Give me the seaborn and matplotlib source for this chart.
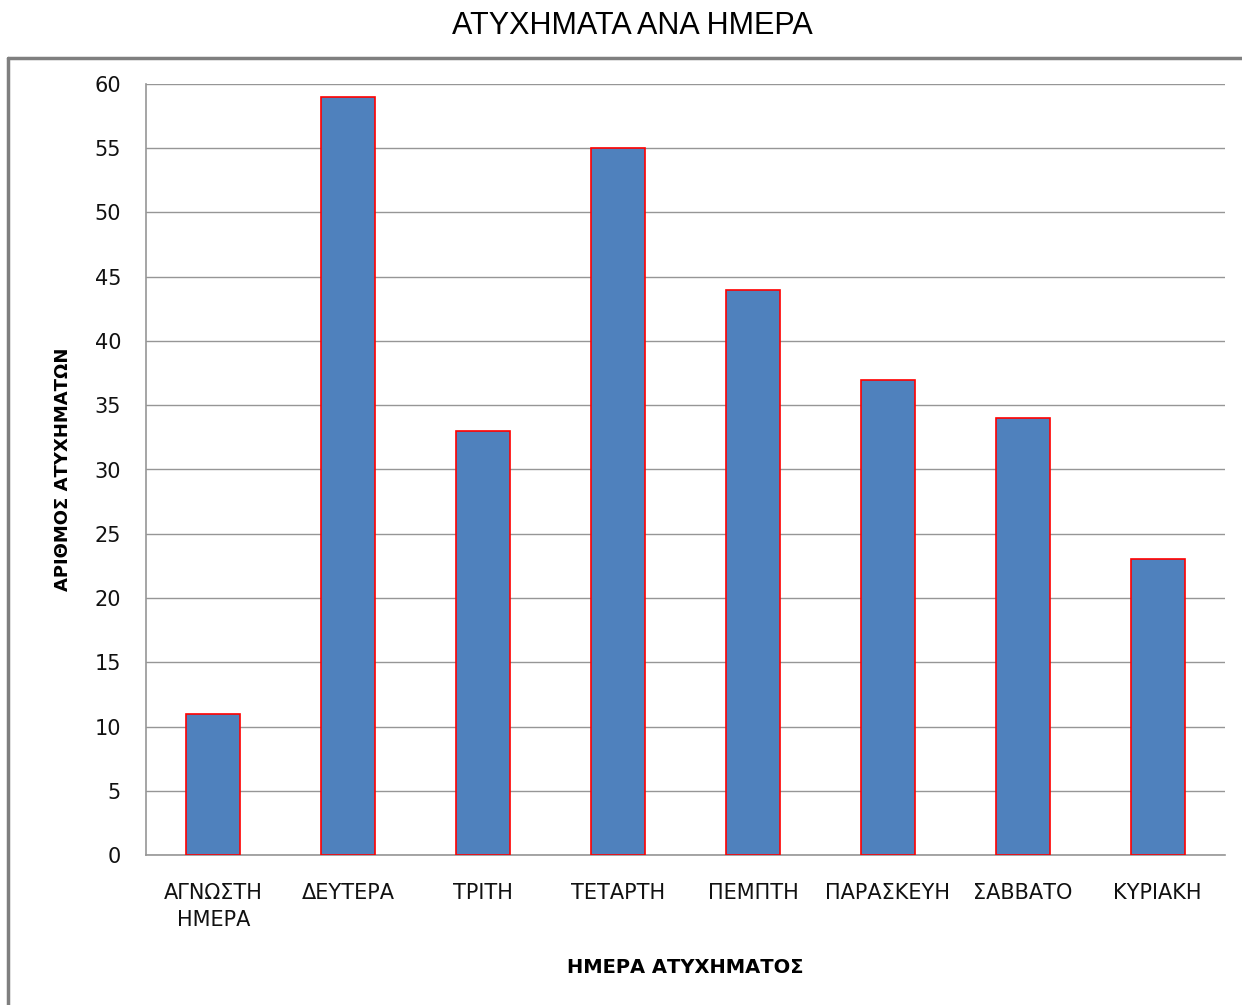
import matplotlib
matplotlib.use("Agg")
import matplotlib.pyplot as plt
import seaborn as sns
import pandas as pd
from matplotlib.lines import Line2D

# données
days = ["ΑΓΝΩΣΤΗ\nΗΜΕΡΑ", "ΔΕΥΤΕΡΑ", "ΤΡΙΤΗ", "ΤΕΤΑΡΤΗ", "ΠΕΜΠΤΗ",
        "ΠΑΡΑΣΚΕΥΗ", "ΣΑΒΒΑΤΟ", "ΚΥΡΙΑΚΗ"]
accidents = [11, 59, 33, 55, 44, 37, 34, 23]
y_ticks = [0, 5, 10, 15, 20, 25, 30, 35, 40, 45, 50, 55, 60]

df = pd.DataFrame({"day": days, "count": accidents})

sns.set_style("white")
plt.rcParams['font.family'] = ['DejaVu Sans']

fig = plt.figure(figsize=(12.42, 10.05), dpi=100)
ax = fig.add_axes([146 / 1242, 1 - 855 / 1005, (1225 - 146) / 1242, (855 - 84) / 1005])

sns.barplot(data=df, x="day", y="count", color="#4F81BD", saturation=1,
            width=0.4, edgecolor="#FF0000", linewidth=1.2, ax=ax, zorder=3)

ax.set_ylim(0, 60)
ax.set_xlim(-0.5, len(days) - 0.5)
ax.set_yticks(y_ticks)
ax.yaxis.grid(True, color="#969696", linewidth=1.0, zorder=0)
ax.set_axisbelow(True)
ax.tick_params(axis="y", length=0, pad=18, labelsize=15, labelcolor="#111111")
ax.tick_params(axis="x", length=0, pad=20, labelsize=15, labelcolor="#111111")
for lbl in ax.get_xticklabels():
    lbl.set_linespacing(1.45)

for s in ["top", "right"]:
    ax.spines[s].set_visible(False)
for s in ["left", "bottom"]:
    ax.spines[s].set_color("#969696")
    ax.spines[s].set_linewidth(1.2)

ax.set_xlabel("ΗΜΕΡΑ ΑΤΥΧΗΜΑΤΟΣ", fontsize=14, fontweight="bold", labelpad=20, color="black")
ax.set_ylabel("ΑΡΙΘΜΟΣ ΑΤΥΧΗΜΑΤΩΝ", fontsize=13, fontweight="bold", labelpad=16, color="black")

# cadre gris
fig.add_artist(Line2D([8 / 1242, 1], [1 - 58 / 1005] * 2, color="#7F7F7F", linewidth=2.5))
fig.add_artist(Line2D([8 / 1242] * 2, [0, 1 - 58 / 1005], color="#7F7F7F", linewidth=2.5))

fig.text(632 / 1242, 1 - 26 / 1005, "ΑΤΥΧΗΜΑΤΑ ΑΝΑ ΗΜΕΡΑ", fontsize=22,
         family=["Liberation Sans"], ha="center", va="center", color="black")

fig.savefig("out.png", dpi=100)
